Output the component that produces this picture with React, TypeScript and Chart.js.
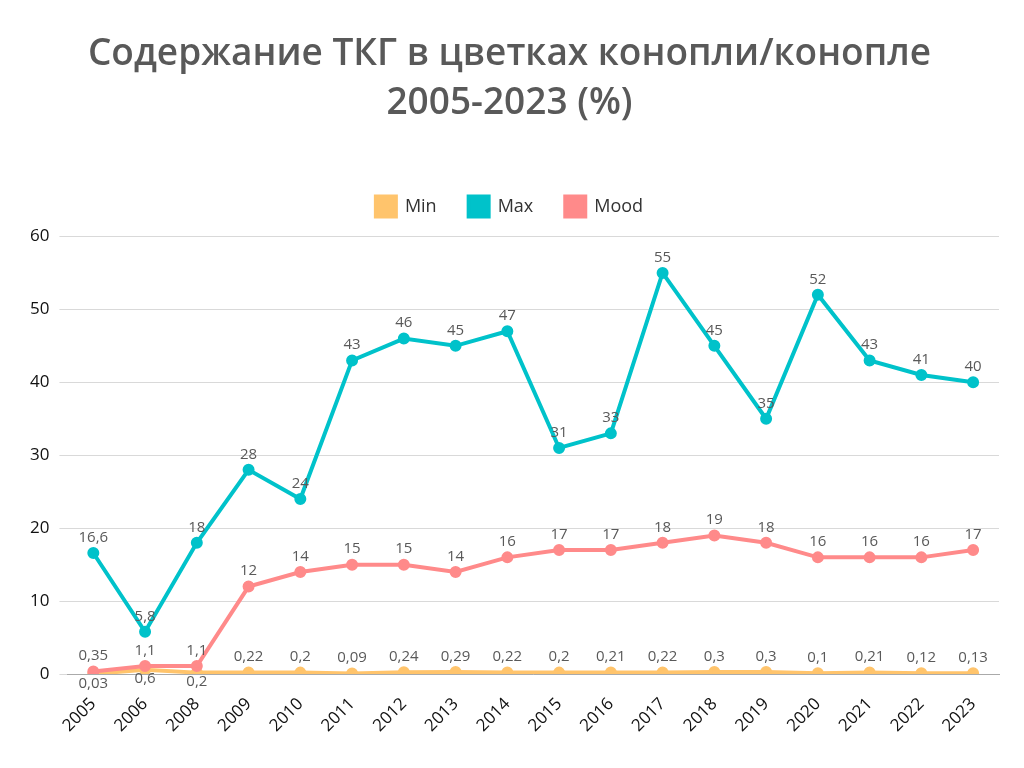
import React, { useEffect, useRef } from "react";
import { Chart, registerables } from "chart.js";

Chart.register(...registerables);

const years = ["2005","2006","2008","2009","2010","2011","2012","2013","2014","2015","2016","2017","2018","2019","2020","2021","2022","2023"];
const minValues = [0.03,0.6,0.2,0.22,0.2,0.09,0.24,0.29,0.22,0.2,0.21,0.22,0.3,0.3,0.1,0.21,0.12,0.13];
const maxValues = [16.6,5.8,18,28,24,43,46,45,47,31,33,55,45,35,52,43,41,40];
const moodValues = [0.35,1.1,1.1,12,14,15,15,14,16,17,17,18,19,18,16,16,16,17];
const minLabelsBelow = [0, 1, 2];
const titleLines = ["Содержание ТКГ в цветках конопли/конопле", "2005-2023 (%)"];

const FONT = "'Open Sans', 'Noto Sans', sans-serif";

const fmt = (v: number) => String(v).replace(".", ",");

const labelPlugin = {
  id: "valueLabels",
  afterDatasetsDraw(chart: any) {
    const ctx = chart.ctx;
    ctx.save();
    ctx.font = `15px ${FONT}`;
    ctx.fillStyle = "#595959";
    ctx.textAlign = "center";
    chart.data.datasets.forEach((ds: any, di: number) => {
      const meta = chart.getDatasetMeta(di);
      meta.data.forEach((pt: any, i: number) => {
        const v = ds.data[i];
        const below = di === 0 && minLabelsBelow.includes(i);
        if (below) {
          ctx.textBaseline = "top";
          ctx.fillText(fmt(v), pt.x, pt.y + 2);
        } else {
          ctx.textBaseline = "bottom";
          ctx.fillText(fmt(v), pt.x, pt.y - 8);
        }
      });
    });
    ctx.restore();
  },
};

const legendGapPlugin = {
  id: "legendGap",
  beforeInit(chart: any) {
    const legend = chart.legend;
    if (!legend) return;
    const orig = legend.fit;
    legend.fit = function () {
      orig.call(this);
      this.height += 10;
    };
  },
};

export default function App() {
  const ref = useRef<HTMLCanvasElement>(null);
  useEffect(() => {
    document.body.style.margin = "0";
    const chart = new Chart(ref.current!, {
      type: "line",
      data: {
        labels: years,
        datasets: [
          { label: "Min", data: minValues, borderColor: "#FFC46C", backgroundColor: "#FFC46C", borderWidth: 4, pointRadius: 4, pointHoverRadius: 4, order: 1 },
          { label: "Max", data: maxValues, borderColor: "#00C2CA", backgroundColor: "#00C2CA", borderWidth: 4, pointRadius: 4, pointHoverRadius: 4, order: 2 },
          { label: "Mood", data: moodValues, borderColor: "#FF8A8A", backgroundColor: "#FF8A8A", borderWidth: 4, pointRadius: 4, pointHoverRadius: 4, order: 0 },
        ],
      },
      options: {
        animation: false,
        responsive: false,
        layout: { padding: { left: 20, right: 25, top: 0, bottom: 20 } },
        plugins: {
          title: {
            display: true,
            text: titleLines,
            color: "#595959",
            font: { family: FONT, size: 37, weight: 600, lineHeight: 1.33 },
            padding: { top: 30, bottom: 36 },
          },
          legend: {
            position: "top",
            labels: {
              color: "#333",
              font: { family: FONT, size: 18 },
              boxWidth: 20,
              boxHeight: 20,
              padding: 32,
              sort: (a: any, b: any) => a.datasetIndex - b.datasetIndex,
            },
          },
          tooltip: { enabled: false },
        },
        scales: {
          x: {
            offset: true,
            grid: { display: false },
            border: { color: "#aaa" },
            ticks: { color: "#111", font: { family: FONT, size: 17 }, maxRotation: 45, minRotation: 45, autoSkip: false, padding: 12 },
          },
          y: {
            min: 0,
            max: 60,
            grid: { color: "#d9d9d9" },
            border: { display: false },
            ticks: { stepSize: 10, color: "#111", font: { family: FONT, size: 17 }, padding: 10 },
          },
        },
      },
      plugins: [labelPlugin, legendGapPlugin],
    });
    return () => chart.destroy();
  }, []);
  return <canvas ref={ref} width={1024} height={768} style={{ display: "block" }} />;
}
